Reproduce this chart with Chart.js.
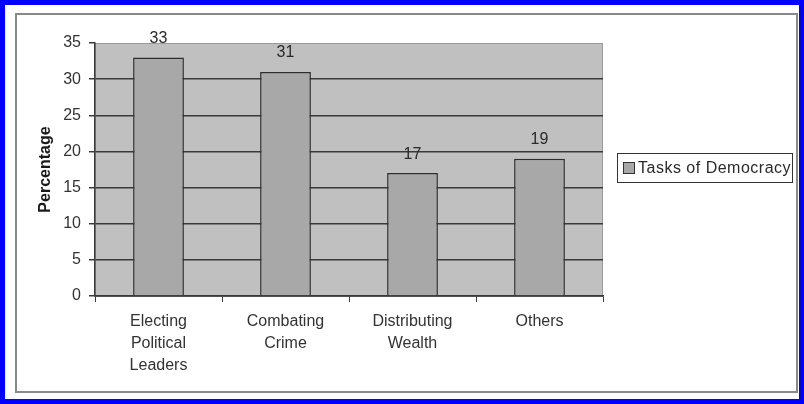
<!DOCTYPE html>
<html>
<head>
<meta charset="utf-8">
<script src="https://cdn.jsdelivr.net/npm/chart.js@4"></script>
<style>
    body { margin: 0; background: #fff; }
    #wrap { width: 804px; height: 404px; }
</style>
</head>
<body>
<div id="wrap"><canvas id="tasksChart" width="804" height="404"></canvas></div>
<script>
// Chart data
const categories = [["Electing", "Political", "Leaders"], ["Combating", "Crime"], ["Distributing", "Wealth"], ["Others"]];
const percentages = [33, 31, 17, 19];
const seriesName = "Tasks of Democracy";
const yTicks = [0, 5, 10, 15, 20, 25, 30, 35];

const FONT = "'Liberation Sans', Arial, sans-serif";

// Frame, plot background, value labels and legend box
const excelLook = {
    id: 'excelLook',
    beforeDraw(chart) {
        const ctx = chart.ctx;
        const a = chart.chartArea;
        ctx.save();
        // outer blue border
        ctx.strokeStyle = '#0000ff';
        ctx.lineWidth = 5;
        ctx.strokeRect(2.5, 2.5, 799, 399);
        // inner gray frame
        ctx.strokeStyle = '#8a8a8a';
        ctx.lineWidth = 2;
        ctx.strokeRect(16, 14, 781, 378);
        // plot area fill
        ctx.fillStyle = '#c0c0c0';
        ctx.fillRect(a.left, a.top, a.right - a.left, a.bottom - a.top);
        ctx.strokeStyle = '#9a9a9a';
        ctx.lineWidth = 1;
        ctx.strokeRect(a.left + 0.5, a.top + 0.5, a.right - a.left - 1, a.bottom - a.top);
        ctx.restore();
    },
    afterDatasetsDraw(chart) {
        const ctx = chart.ctx;
        const meta = chart.getDatasetMeta(0);
        ctx.save();
        ctx.font = '16px ' + FONT;
        ctx.fillStyle = '#2a2a2a';
        ctx.textAlign = 'center';
        ctx.textBaseline = 'middle';
        meta.data.forEach((bar, i) => {
            ctx.fillText(String(percentages[i]), bar.x, bar.y - 19);
        });

        // legend
        const ds = chart.data.datasets[0];
        const midY = 168;
        ctx.strokeStyle = '#333';
        ctx.lineWidth = 1;
        ctx.strokeRect(617.5, 153.5, 175, 29);
        ctx.fillStyle = ds.backgroundColor;
        ctx.fillRect(623.5, midY - 5.5, 11, 11);
        ctx.strokeRect(623.5, midY - 5.5, 11, 11);
        ctx.fillStyle = '#2a2a2a';
        ctx.textAlign = 'left';
        ctx.font = '16px ' + FONT;
        ctx.letterSpacing = '0.5px';
        ctx.fillText(ds.label, 638, midY + 1);
        ctx.restore();
    }
};

const ctx = document.getElementById('tasksChart').getContext('2d');
new Chart(ctx, {
    type: 'bar',
    data: {
        labels: categories,
        datasets: [{
            label: seriesName,
            data: percentages,
            backgroundColor: '#a8a8a8',
            borderColor: '#2e2e2e',
            borderWidth: 1.5,
            barPercentage: 0.4,
            categoryPercentage: 1.0,
        }]
    },
    options: {
        responsive: false,
        animation: false,
        layout: {
            padding: { left: 20, right: 201, top: 43, bottom: 0 }
        },
        plugins: {
            legend: { display: false },
            tooltip: { enabled: false }
        },
        scales: {
            y: {
                min: 0,
                max: 35,
                afterFit: function(scale) { scale.width = 75; },
                afterBuildTicks: function(scale) {
                    scale.ticks = yTicks.map(v => ({ value: v }));
                },
                ticks: {
                    font: { family: FONT, size: 16 },
                    color: '#333',
                    padding: 8,
                },
                grid: {
                    color: function(c) {
                        return c.tick && c.tick.value === 35 ? 'rgba(0,0,0,0)' : '#3a3a3a';
                    },
                    tickColor: '#3a3a3a',
                    tickLength: 6,
                    lineWidth: 1.5,
                },
                border: { display: true, color: '#3a3a3a', width: 1.5 },
                title: {
                    display: true,
                    text: 'Percentage',
                    font: { family: FONT, size: 16, weight: 'bold' },
                    color: '#1a1a1a',
                    padding: { top: 16, bottom: 0 }
                }
            },
            x: {
                afterFit: function(scale) { scale.height = 108; },
                ticks: {
                    font: { family: FONT, size: 16, lineHeight: 1.375 },
                    color: '#333',
                    padding: 9,
                    maxRotation: 0,
                    autoSkip: false,
                },
                grid: {
                    offset: true,
                    drawOnChartArea: false,
                    tickColor: '#3a3a3a',
                    tickLength: 6,
                },
                border: { display: true, color: '#3a3a3a', width: 1.5 },
            }
        }
    },
    plugins: [excelLook]
});
</script>
</body>
</html>
